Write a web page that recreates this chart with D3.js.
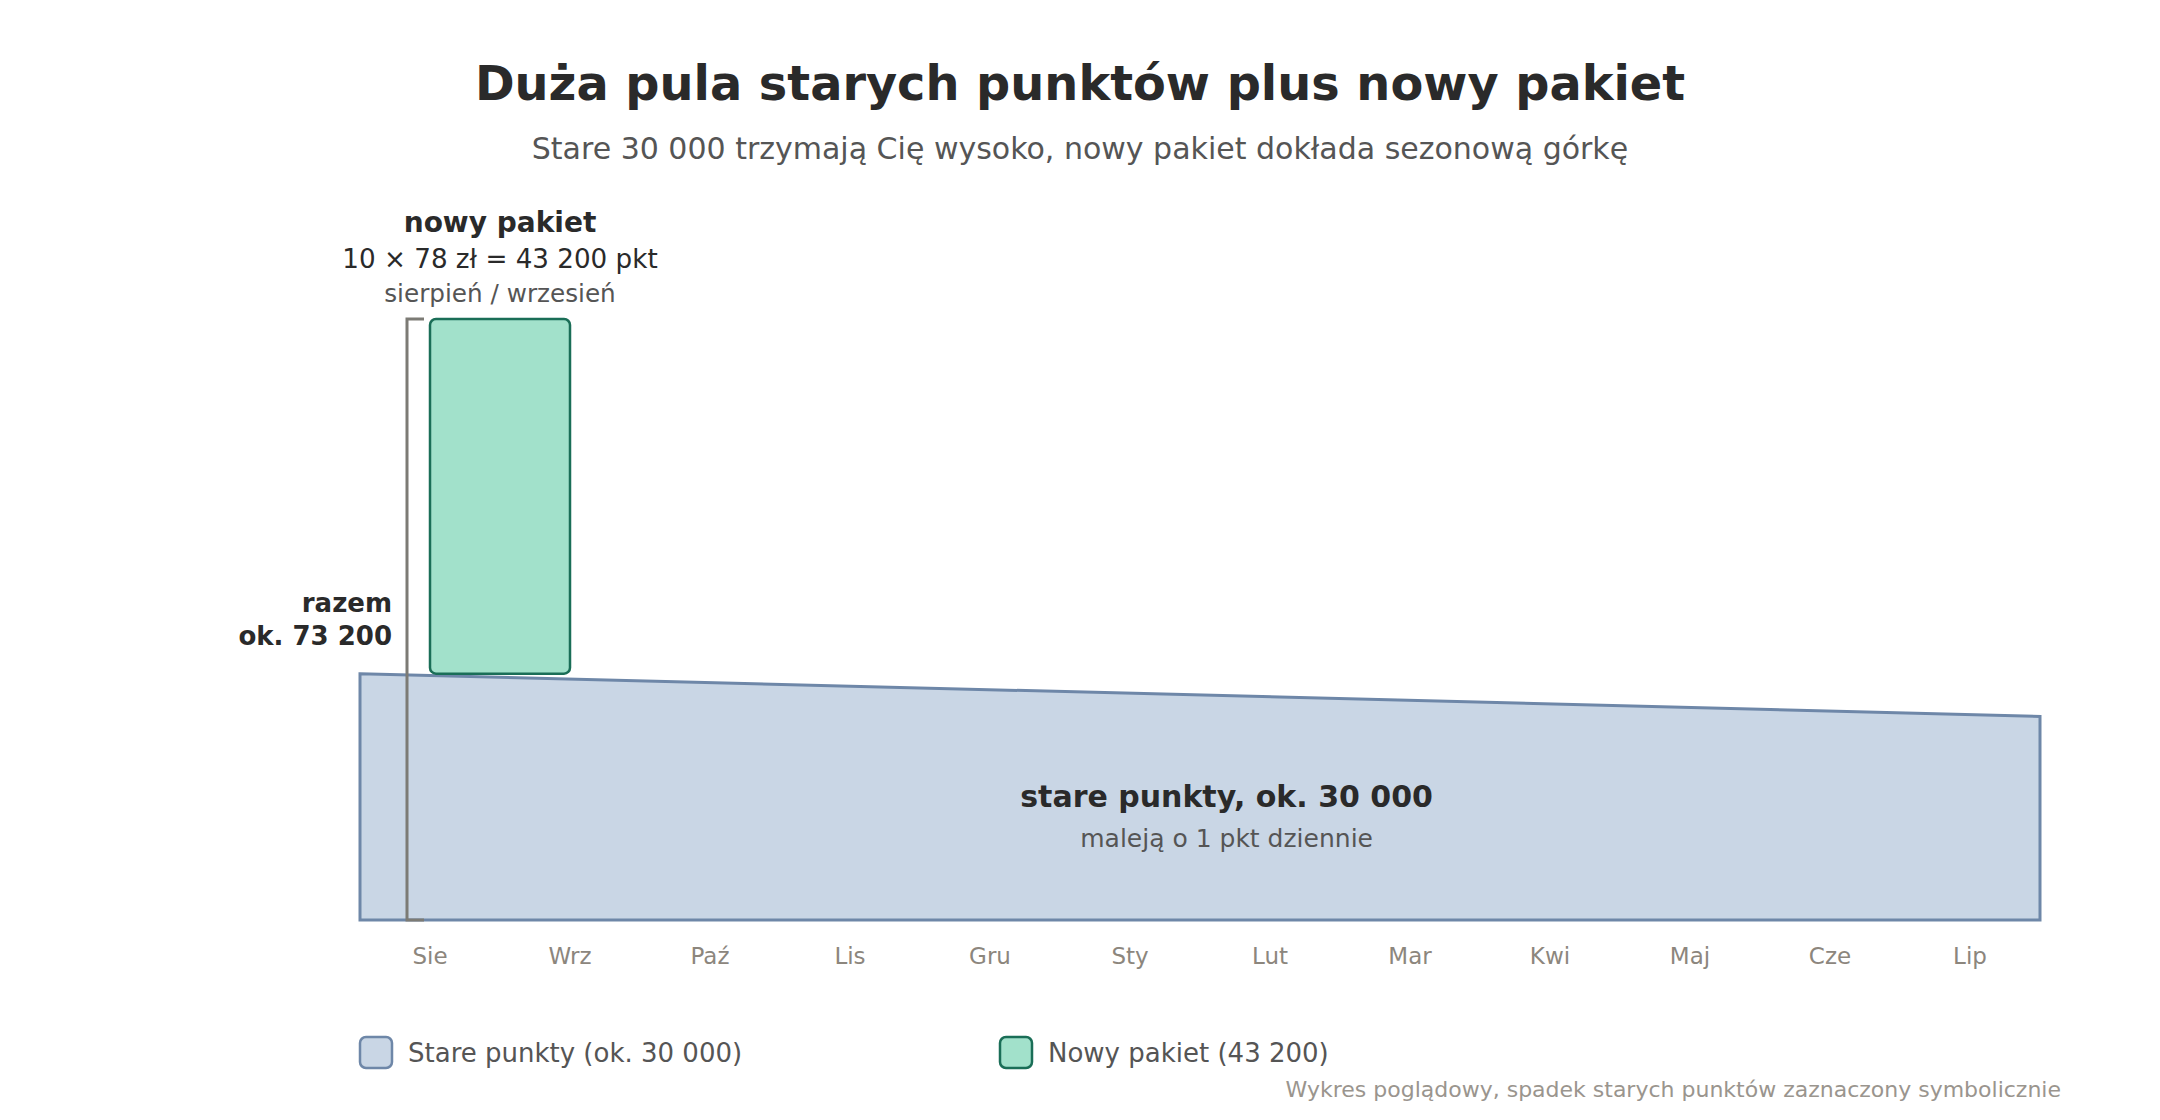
<!DOCTYPE html>
<html>
<head>
<meta charset="utf-8">
<script src="https://cdn.jsdelivr.net/npm/d3@7"></script>
<style>
  body { margin: 0; background: #fff; }
  text { font-family: "DejaVu Sans", sans-serif; }
</style>
</head>
<body>
<svg id="chart"></svg>
<script>
const width = 2160;
const height = 1120;

// data
const months = ["Sie", "Wrz", "Paź", "Lis", "Gru", "Sty", "Lut", "Mar", "Kwi", "Maj", "Cze", "Lip"];
const oldPoints = [30000, 24800];      // start / end of year (decline drawn symbolically)
const newPackage = { start: 0.5, end: 1.5, value: 43200 };
const total = 73200;
const legendItems = ["Stare punkty (ok. 30 000)", "Nowy pakiet (43 200)"];

const svg = d3.select("#chart")
    .attr("width", width)
    .attr("height", height);

const x = d3.scaleLinear()
    .domain([0, months.length])
    .range([360, 2040]);

const y = d3.scaleLinear()
    .domain([0, total])
    .range([920, 319]);

// title
svg.append("text")
    .attr("x", width / 2)
    .attr("y", 100)
    .attr("text-anchor", "middle")
    .style("font-size", "47.8px")
    .style("font-weight", "bold")
    .style("fill", "#2a2a2a")
    .text("Duża pula starych punktów plus nowy pakiet");

svg.append("text")
    .attr("x", width / 2)
    .attr("y", 159)
    .attr("text-anchor", "middle")
    .style("font-size", "30px")
    .style("fill", "#555")
    .text("Stare 30 000 trzymają Cię wysoko, nowy pakiet dokłada sezonową górkę");

// old points area
const oldArea = d3.area()
    .x(d => x(d[0]))
    .y0(y(0))
    .y1(d => y(d[1]));

svg.append("path")
    .datum([[0, oldPoints[0]], [months.length, oldPoints[1]]])
    .attr("d", oldArea)
    .attr("fill", "#c9d6e5")
    .attr("stroke", "#6e87a8")
    .attr("stroke-width", 3)
    .attr("stroke-linejoin", "miter");

// new package bar
svg.append("rect")
    .attr("x", x(newPackage.start))
    .attr("y", y(oldPoints[0] + newPackage.value))
    .attr("width", x(newPackage.end) - x(newPackage.start))
    .attr("height", y(oldPoints[0]) - y(oldPoints[0] + newPackage.value))
    .attr("rx", 6)
    .attr("fill", "#a2e1cb")
    .attr("stroke", "#1a6e57")
    .attr("stroke-width", 2.5);

// total bracket
const bx = x(newPackage.start) - 23;
svg.append("path")
    .attr("d", `M${bx + 17},${y(total)} H${bx} V${y(0)} H${bx + 17}`)
    .attr("fill", "none")
    .attr("stroke", "#7c7b75")
    .attr("stroke-width", 3);

svg.append("text")
    .attr("x", 392)
    .attr("y", 612)
    .attr("text-anchor", "end")
    .style("font-size", "26px")
    .style("font-weight", "bold")
    .style("fill", "#2a2a2a")
    .text("razem");

svg.append("text")
    .attr("x", 392)
    .attr("y", 645)
    .attr("text-anchor", "end")
    .style("font-size", "26px")
    .style("font-weight", "bold")
    .style("fill", "#2a2a2a")
    .text("ok. " + d3.format(",")(total).replace(/,/g, " "));

// new package annotation
const cx = x((newPackage.start + newPackage.end) / 2);
svg.append("text")
    .attr("x", cx).attr("y", 232)
    .attr("text-anchor", "middle")
    .style("font-size", "28px")
    .style("font-weight", "bold")
    .style("fill", "#2a2a2a")
    .text("nowy pakiet");

svg.append("text")
    .attr("x", cx).attr("y", 268)
    .attr("text-anchor", "middle")
    .style("font-size", "26.2px")
    .style("fill", "#2a2a2a")
    .text("10 × 78 zł = 43 200 pkt");

svg.append("text")
    .attr("x", cx).attr("y", 302)
    .attr("text-anchor", "middle")
    .style("font-size", "24.7px")
    .style("fill", "#555")
    .text("sierpień / wrzesień");

// old points annotation
svg.append("text")
    .attr("x", x(6.19)).attr("y", 807)
    .attr("text-anchor", "middle")
    .style("font-size", "30px")
    .style("font-weight", "bold")
    .style("fill", "#2a2a2a")
    .text("stare punkty, ok. 30 000");

svg.append("text")
    .attr("x", x(6.19)).attr("y", 847)
    .attr("text-anchor", "middle")
    .style("font-size", "25px")
    .style("fill", "#555")
    .text("maleją o 1 pkt dziennie");

// month labels
svg.selectAll(".month")
    .data(months)
    .enter()
    .append("text")
    .attr("class", "month")
    .attr("x", (d, i) => x(i + 0.5))
    .attr("y", 964)
    .attr("text-anchor", "middle")
    .style("font-size", "23px")
    .style("fill", "#8c867d")
    .text(d => d);

// legend
const legendX = [360, 1000];
const legendColors = [["#c9d6e5", "#6e87a8"], ["#a2e1cb", "#1a6e57"]];
const legend = svg.selectAll(".legend")
    .data(legendItems)
    .enter()
    .append("g")
    .attr("class", "legend")
    .attr("transform", (d, i) => `translate(${legendX[i]},1037)`);

legend.append("rect")
    .attr("width", 32)
    .attr("height", 31)
    .attr("rx", 6)
    .attr("fill", (d, i) => legendColors[i][0])
    .attr("stroke", (d, i) => legendColors[i][1])
    .attr("stroke-width", 2.5);

legend.append("text")
    .attr("x", 48)
    .attr("y", 25)
    .style("font-size", "26px")
    .style("fill", "#555")
    .text(d => d);

// footnote
svg.append("text")
    .attr("x", 2061)
    .attr("y", 1097)
    .attr("text-anchor", "end")
    .style("font-size", "22px")
    .style("fill", "#9a958e")
    .text("Wykres poglądowy, spadek starych punktów zaznaczony symbolicznie");
</script>
</body>
</html>
